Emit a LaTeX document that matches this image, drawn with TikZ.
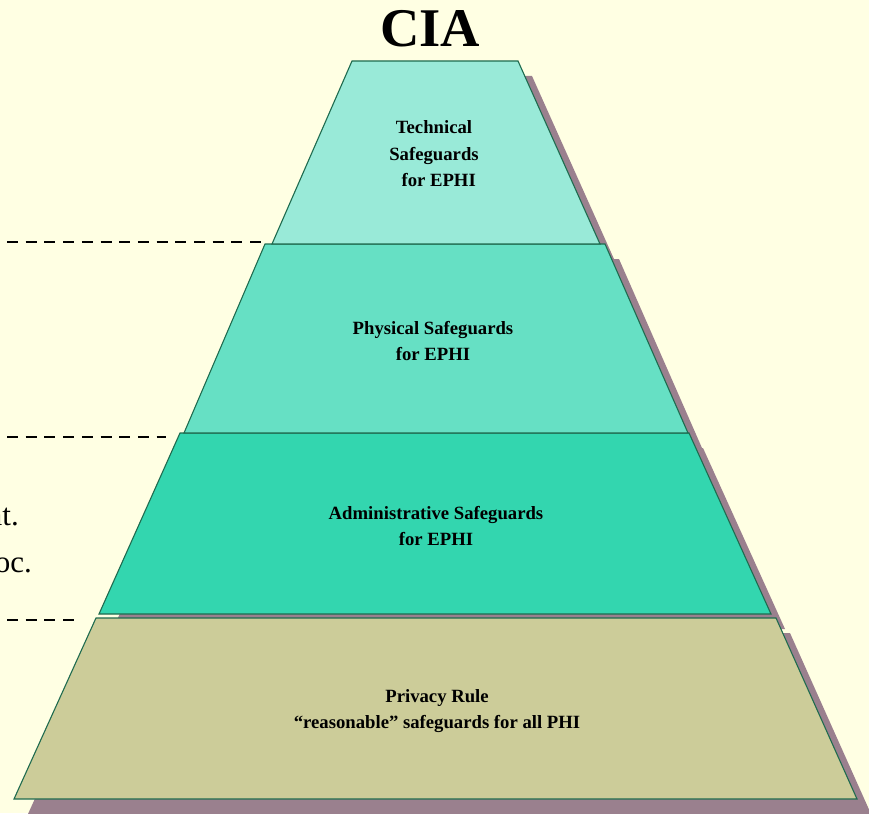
\documentclass[tikz,border=0pt]{standalone}
\usepackage{fontspec}
\setmainfont{Liberation Serif}
\definecolor{bg}{HTML}{FFFFE3}
\definecolor{lay1}{HTML}{99EAD8}
\definecolor{lay2}{HTML}{66E0C4}
\definecolor{lay3}{HTML}{33D6AF}
\definecolor{lay4}{HTML}{CCCC99}
\definecolor{edge}{HTML}{1F6B4F}
\definecolor{shad}{HTML}{9A808E}
\tikzset{
  layer/.style={draw=edge, line width=1.1pt, line join=miter},
  shadowfill/.style={fill=shad, draw=none},
  lbl/.style={font=\bfseries\fontsize{18.7}{26.5}\selectfont, align=center, text=black},
  sidetext/.style={font=\fontsize{31}{31}\selectfont, anchor=base east, inner sep=0pt, text=black},
  dashline/.style={line width=2.8pt, dash pattern=on 11pt off 7.7pt, dash phase=-7pt, black},
}
\begin{document}
\begin{tikzpicture}[x=1pt,y=-1pt]
\fill[bg] (0,0) rectangle (869,813);
\useasboundingbox (0,0) rectangle (869,813);
% shadows
\begin{scope}[shift={(14,15)}]
\fill[shadowfill] (352,61) -- (518,61) -- (600,244) -- (272,244) -- cycle;
\fill[shadowfill] (265,244) -- (605,244) -- (688,433) -- (184,433) -- cycle;
\fill[shadowfill] (180,433) -- (689,433) -- (771,614) -- (99,614) -- cycle;
\fill[shadowfill] (96,618) -- (776,618) -- (857,799) -- (14,799) -- cycle;
\end{scope}
% layers
\draw[layer, fill=lay4] (96,618) -- (776,618) -- (857,799) -- (14,799) -- cycle;
\draw[layer, fill=lay3] (180,433) -- (689,433) -- (771,614) -- (99,614) -- cycle;
\draw[layer, fill=lay2] (265,244) -- (605,244) -- (688,433) -- (184,433) -- cycle;
\draw[layer, fill=lay1] (352,61) -- (518,61) -- (600,244) -- (272,244) -- cycle;
% labels
\node[lbl] (tech) at (434,154) {Technical\\Safeguards\\\ \ for EPHI};
\node[lbl] (phys) at (433,341) {Physical Safeguards\\for EPHI};
\node[lbl] (admin) at (436,526) {Administrative Safeguards\\for EPHI};
\node[lbl] (priv) at (437,711) {Privacy Rule\\``reasonable'' safeguards for all PHI};
\node[font=\bfseries\fontsize{54.5}{54.5}\selectfont, inner sep=0pt] (cia) at (430,29) {CIA};
% side texts
\node[sidetext] (nt) at (19,525) {nt.};
\node[sidetext] (oc) at (32,572) {oc.};
% dashed lines
\coordinate (d1a) at (0,242); \coordinate (d1b) at (264,242);
\coordinate (d2a) at (0,437); \coordinate (d2b) at (166,437);
\coordinate (d3a) at (0,620); \coordinate (d3b) at (81,620);
\draw[dashline] (d1a) -- (d1b);
\draw[dashline] (d2a) -- (d2b);
\draw[dashline] (d3a) -- (d3b);
\end{tikzpicture}
\end{document}
